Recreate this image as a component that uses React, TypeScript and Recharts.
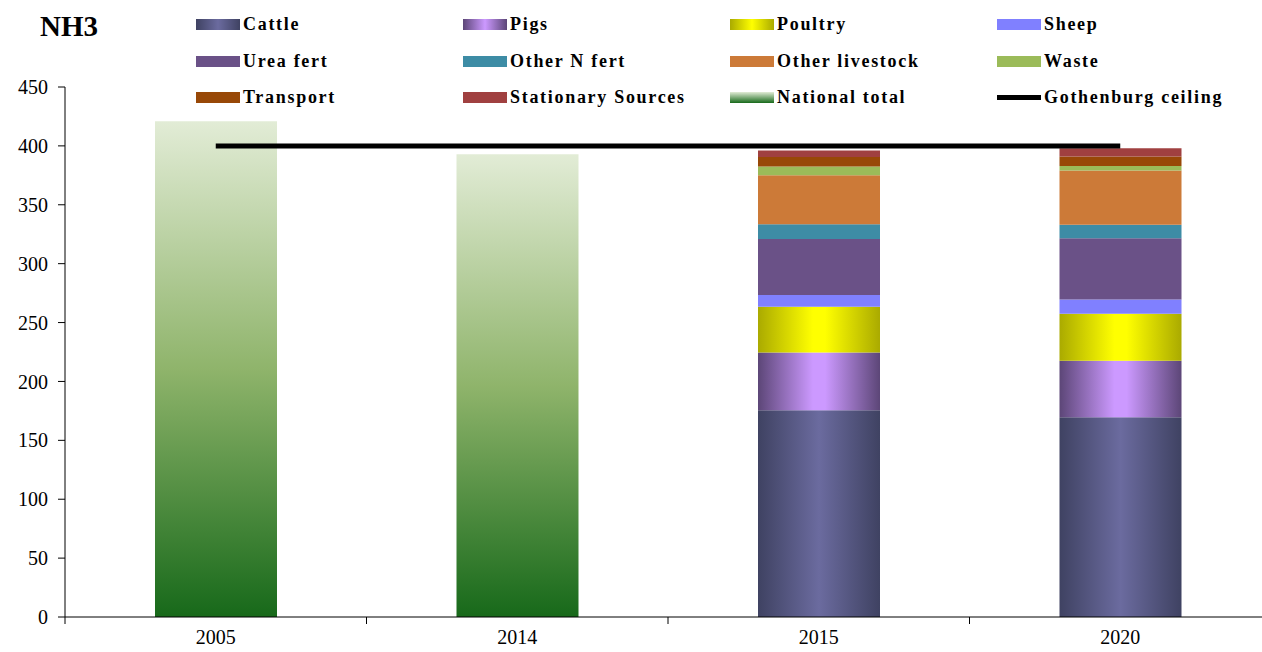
import React from 'react'
import { ComposedChart, Bar, Line, XAxis, YAxis } from 'recharts'

const years = ['2005', '2014', '2015', '2020']
const nationalTotal = [421, 393, null, null]
const cattle = [null, null, 175.5, 169.5]
const pigs = [null, null, 49, 48]
const poultry = [null, null, 39, 40]
const sheep = [null, null, 10, 12]
const ureaFert = [null, null, 47.5, 52]
const otherNFert = [null, null, 12.5, 11.5]
const otherLivestock = [null, null, 41.5, 46]
const waste = [null, null, 7.5, 4]
const transport = [null, null, 8, 8]
const stationary = [null, null, 5.5, 7]
const gothenburgCeiling = [400, 400, 400, 400]
const yTicks = [0, 50, 100, 150, 200, 250, 300, 350, 400, 450]

const data = years.map((year, i) => ({
  year,
  nationalTotal: nationalTotal[i],
  cattle: cattle[i],
  pigs: pigs[i],
  poultry: poultry[i],
  sheep: sheep[i],
  ureaFert: ureaFert[i],
  otherNFert: otherNFert[i],
  otherLivestock: otherLivestock[i],
  waste: waste[i],
  transport: transport[i],
  stationary: stationary[i],
  gothenburg: gothenburgCeiling[i],
}))

const serif = '"Liberation Serif", "Times New Roman", serif'

// stacking order bottom -> top
const stackSeries = [
  { key: 'cattle', name: 'Cattle', fill: 'url(#gCattle)', swatch: 'linear-gradient(90deg,#3f4262,#6b6b9f,#3f4262)' },
  { key: 'pigs', name: 'Pigs', fill: 'url(#gPigs)', swatch: 'linear-gradient(90deg,#5c4677,#cc99ff,#5c4677)' },
  { key: 'poultry', name: 'Poultry', fill: 'url(#gPoultry)', swatch: 'linear-gradient(90deg,#aaaa00,#ffff00,#aaaa00)' },
  { key: 'sheep', name: 'Sheep', fill: '#8080ff', swatch: '#8080ff' },
  { key: 'ureaFert', name: 'Urea fert', fill: '#6a5187', swatch: '#6a5187' },
  { key: 'otherNFert', name: 'Other N fert', fill: '#3d8ca5', swatch: '#3d8ca5' },
  { key: 'otherLivestock', name: 'Other livestock', fill: '#cc7a38', swatch: '#cc7a38' },
  { key: 'waste', name: 'Waste', fill: '#9bbb59', swatch: '#9bbb59' },
  { key: 'transport', name: 'Transport', fill: '#984807', swatch: '#984807' },
  { key: 'stationary', name: 'Stationary Sources', fill: '#a04040', swatch: '#a04040' },
]

const legendItems = [
  ...stackSeries.map(s => ({ name: s.name, swatch: s.swatch, line: false })),
  { name: 'National total', swatch: 'linear-gradient(180deg,#e2ecd6,#17691a)', line: false },
  { name: 'Gothenburg ceiling', swatch: '#000', line: true },
]

const PLOT_LEFT = 65
const PLOT_WIDTH = 1206
const BAND = PLOT_WIDTH / years.length

const XTick = (props: any) => {
  const { x, y, payload, index } = props
  const axisY = y - 8
  return (
    <g>
      <line x1={x - BAND / 2} y1={axisY} x2={x - BAND / 2} y2={axisY + 7} stroke="#000" />
      {index === years.length - 1 && (
        <line x1={x + BAND / 2} y1={axisY} x2={x + BAND / 2} y2={axisY + 7} stroke="#000" />
      )}
      <text x={x} y={axisY + 27} textAnchor="middle" fontFamily={serif} fontSize={20} fill="#000">
        {payload.value}
      </text>
    </g>
  )
}

const App = () => {
  return (
    <div style={{ position: 'absolute', left: 0, top: 0, width: 1262, height: 652, overflow: 'hidden', background: '#fff' }}>
      <div style={{ position: 'absolute', left: 40, top: 10, fontFamily: serif, fontWeight: 'bold', fontSize: 29 }}>NH3</div>
      <div style={{ position: 'absolute', left: 196, top: 14, width: 1070 }}>
        {legendItems.map((item, i) => (
          <div
            key={item.name}
            style={{
              position: 'absolute',
              left: (i % 4) * 267,
              top: Math.floor(i / 4) * 36.5,
              display: 'flex',
              alignItems: 'center',
              fontFamily: serif,
              fontWeight: 'bold',
              fontSize: 18,
              whiteSpace: 'nowrap',
            }}
          >
            <span
              style={{
                display: 'inline-block',
                width: 44,
                height: item.line ? 5 : 11,
                background: item.swatch,
                marginRight: 3,
              }}
            />
            <span style={{ letterSpacing: 1.7 }}>{item.name}</span>
          </div>
        ))}
      </div>
      <ComposedChart
        width={PLOT_LEFT + PLOT_WIDTH + 1}
        height={652}
        data={data}
        margin={{ top: 87, right: 1, bottom: 5, left: 5 }}
        style={{ position: 'absolute', left: 0, top: 0 }}
      >
        <defs>
          <linearGradient id="gNational" x1="0" y1="0" x2="0" y2="1">
            <stop offset="0%" stopColor="#e2ecd6" />
            <stop offset="50%" stopColor="#8fb46b" />
            <stop offset="100%" stopColor="#17691a" />
          </linearGradient>
          <linearGradient id="gCattle" x1="0" y1="0" x2="1" y2="0">
            <stop offset="0%" stopColor="#3f4262" />
            <stop offset="50%" stopColor="#6b6b9f" />
            <stop offset="100%" stopColor="#3f4262" />
          </linearGradient>
          <linearGradient id="gPigs" x1="0" y1="0" x2="1" y2="0">
            <stop offset="0%" stopColor="#5c4677" />
            <stop offset="45%" stopColor="#cc99ff" />
            <stop offset="55%" stopColor="#cc99ff" />
            <stop offset="100%" stopColor="#5c4677" />
          </linearGradient>
          <linearGradient id="gPoultry" x1="0" y1="0" x2="1" y2="0">
            <stop offset="0%" stopColor="#aaaa00" />
            <stop offset="45%" stopColor="#ffff00" />
            <stop offset="55%" stopColor="#ffff00" />
            <stop offset="100%" stopColor="#aaaa00" />
          </linearGradient>
        </defs>
        <XAxis
          dataKey="year"
          stroke="#000"
          tickLine={false}
          tick={<XTick />}
          interval={0}
          height={30}
          padding={{ left: 0, right: 0 }}
        />
        <YAxis
          domain={[0, 450]}
          ticks={yTicks}
          width={60}
          stroke="#000"
          tickSize={7}
          tickMargin={10}
          interval={0}
          tick={{ fill: '#000', fontFamily: serif, fontSize: 20 }}
        />
        <Bar dataKey="nationalTotal" name="National total" stackId="a" fill="url(#gNational)" barSize={122} isAnimationActive={false} />
        {stackSeries.map(s => (
          <Bar key={s.key} dataKey={s.key} name={s.name} stackId="a" fill={s.fill} barSize={122} isAnimationActive={false} />
        ))}
        <Line
          dataKey="gothenburg"
          name="Gothenburg ceiling"
          stroke="#000"
          strokeWidth={5}
          dot={false}
          activeDot={false}
          isAnimationActive={false}
        />
      </ComposedChart>
    </div>
  )
}

export default App
